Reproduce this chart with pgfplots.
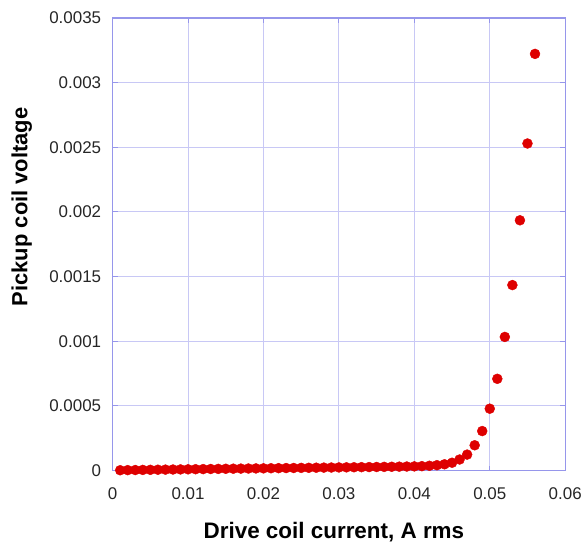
\documentclass[border=0pt]{standalone}
\usepackage{pgfplots}
\pgfplotsset{compat=1.18}
\usepackage{fontspec}
\setmainfont{Liberation Sans}
\definecolor{gridc}{RGB}{200,200,245}
\definecolor{framec}{RGB}{150,150,235}
\definecolor{dotc}{RGB}{222,0,0}
\begin{document}
\begin{tikzpicture}
\path (-113pt,-73pt) rectangle (472pt,472pt);
\begin{axis}[
  scale only axis,
  width=454pt, height=454pt,
  xmin=0, xmax=0.06, ymin=0, ymax=0.0035,
  xtick={0,0.01,0.02,0.03,0.04,0.05,0.06},
  ytick={0,0.0005,0.001,0.0015,0.002,0.0025,0.003,0.0035},
  xticklabels={0,0.01,0.02,0.03,0.04,0.05,0.06},
  yticklabels={0,0.0005,0.001,0.0015,0.002,0.0025,0.003,0.0035},
  scaled ticks=false,
  grid=major,
  major grid style={gridc, line width=1pt},
  axis line style={framec, line width=1.2pt},
  tick style={framec, line width=1pt},
  tick align=inside,
  major tick length=5pt,
  ticklabel style={font=\fontsize{17}{19}\selectfont, text=black!85},
  /pgf/number format/assume math mode=true,
  xlabel={\textbf{Drive coil current, A rms}},
  ylabel={\textbf{Pickup coil voltage}},
  xlabel style={font=\fontsize{22.5}{24}\selectfont, at={(axis description cs:0.489,0)}, anchor=base, yshift=-68pt},
  ylabel style={font=\fontsize{22}{24}\selectfont, at={(axis description cs:-0.1883,0.5826)}, anchor=base},
  xticklabel style={yshift=-13.5pt},
  yticklabel style={xshift=-8pt},
]
\addplot[only marks, mark=*, mark size=5pt, mark options={fill=dotc, draw=dotc}] coordinates {
(0.001,0.0000020)(0.002,0.0000028)(0.003,0.0000036)(0.004,0.0000044)(0.005,0.0000052)
(0.006,0.0000060)(0.007,0.0000068)(0.008,0.0000076)(0.009,0.0000084)(0.010,0.0000092)
(0.011,0.0000100)(0.012,0.0000108)(0.013,0.0000116)(0.014,0.0000124)(0.015,0.0000132)
(0.016,0.0000139)(0.017,0.0000146)(0.018,0.0000153)(0.019,0.0000160)(0.020,0.0000167)
(0.021,0.0000174)(0.022,0.0000181)(0.023,0.0000188)(0.024,0.0000195)(0.025,0.0000202)
(0.026,0.0000209)(0.027,0.0000216)(0.028,0.0000223)(0.029,0.0000230)(0.030,0.0000237)
(0.031,0.0000244)(0.032,0.0000251)(0.033,0.0000258)(0.034,0.0000265)(0.035,0.0000272)
(0.036,0.0000280)(0.037,0.0000288)(0.038,0.0000297)(0.039,0.0000307)(0.040,0.0000318)
(0.041,0.0000335)(0.042,0.0000365)(0.043,0.0000410)(0.044,0.0000480)(0.045,0.0000600)
(0.046,0.0000850)(0.047,0.000123)(0.048,0.000195)(0.049,0.000305)(0.050,0.000478)
(0.051,0.000709)(0.052,0.001033)(0.053,0.001434)(0.054,0.001935)(0.055,0.002529)
(0.056,0.003222)
};
\end{axis}
\end{tikzpicture}
\end{document}
